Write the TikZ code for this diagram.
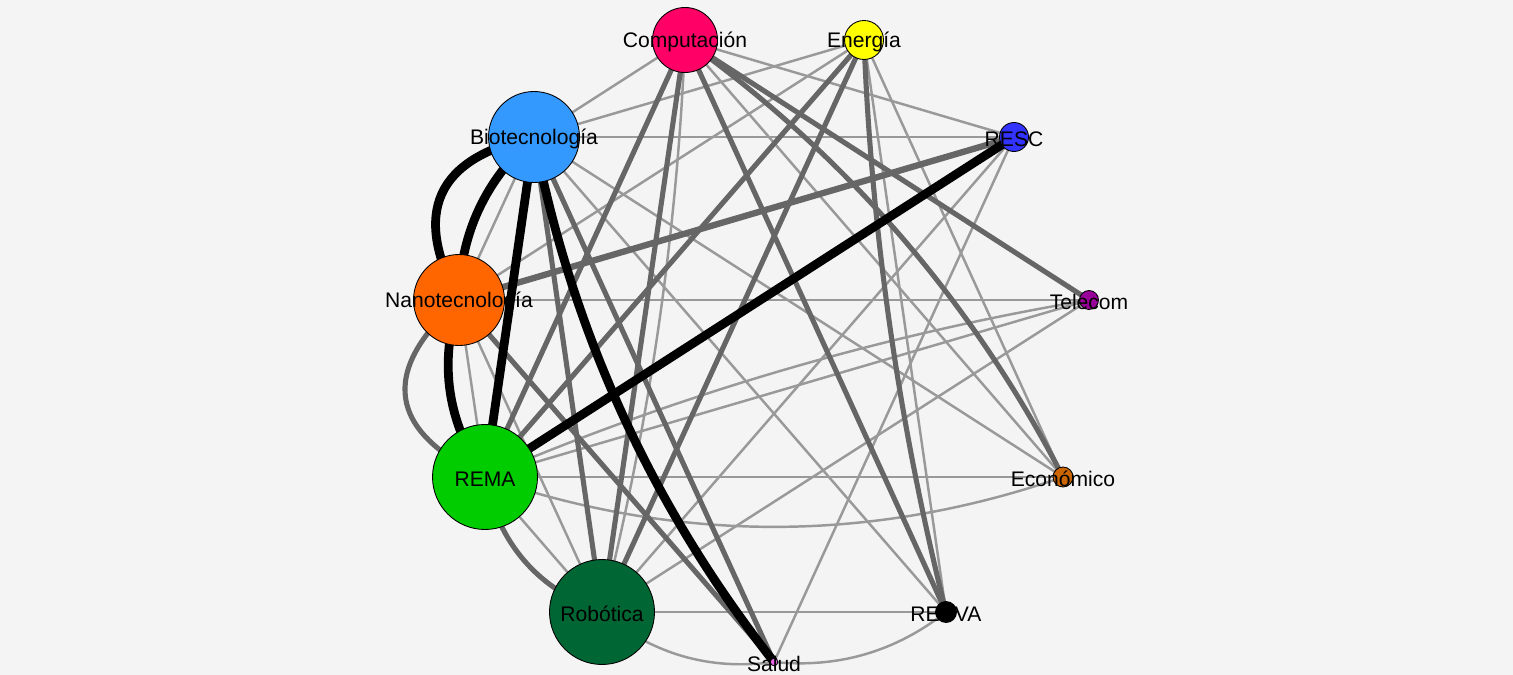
\documentclass[tikz,border=0pt]{standalone}
\usepackage{fontspec}
\setmainfont{Liberation Sans}
\usetikzlibrary{calc}
\definecolor{bg}{HTML}{F4F4F4}
\definecolor{lgrey}{HTML}{999999}
\definecolor{mgrey}{HTML}{666666}
\definecolor{cC}{HTML}{FF0066}
\definecolor{cE}{HTML}{FFFF00}
\definecolor{cRS}{HTML}{3333FF}
\definecolor{cT}{HTML}{990099}
\definecolor{cEc}{HTML}{CC6600}
\definecolor{cRD}{HTML}{000000}
\definecolor{cS}{HTML}{EE66EE}
\definecolor{cRo}{HTML}{006633}
\definecolor{cRM}{HTML}{00CC00}
\definecolor{cN}{HTML}{FF6600}
\definecolor{cB}{HTML}{3399FF}
\pgfdeclarelayer{bgl}
\pgfdeclarelayer{edges}
\pgfsetlayers{bgl,edges,main}
\tikzset{
  L/.style={draw=lgrey, line width=1.4pt},
  M/.style={draw=mgrey, line width=2.9pt},
  MW/.style={draw=mgrey, line width=3.6pt},
  K/.style={draw=black, line width=5pt},
  vtx/.style={circle, draw=black, line width=0.5pt, inner sep=0pt},
  lbl/.style={font=\fontsize{12}{14}\selectfont, text=black, inner sep=0pt, yshift=-0.04cm}
}
\newcommand\crv[4]{\draw[#1] (#2.center) .. controls ($(#2.center)!0.333!(#3.center)!#4!90:(#3.center)$) and ($(#2.center)!0.667!(#3.center)!#4!90:(#3.center)$) .. (#3.center);}
\newcommand\lin[3]{\draw[#1] (#2.center) -- (#3.center);}
\begin{document}
\begin{tikzpicture}[x=0.02cm,y=-0.02cm]
\begin{pgfonlayer}{bgl}
\fill[bg] (0,0) rectangle (1513,675);
\end{pgfonlayer}
\useasboundingbox (0,0) rectangle (1513,675);
% vertices
\node[vtx, fill=cC,  minimum size=1.30cm] (C)  at (685,40)  {};
\node[vtx, fill=cE,  minimum size=0.78cm] (E)  at (864,40)  {};
\node[vtx, fill=cRS, minimum size=0.58cm] (RS) at (1014,137) {};
\node[vtx, fill=cT,  minimum size=0.38cm] (T)  at (1089,300) {};
\node[vtx, fill=cEc, minimum size=0.40cm] (Ec) at (1063,477) {};
\node[vtx, fill=cRD, minimum size=0.42cm] (RD) at (946,612) {};
\node[vtx, fill=cS,  minimum size=0.15cm] (S)  at (774,662) {};
\node[vtx, fill=cRo, minimum size=2.10cm] (Ro) at (602,612) {};
\node[vtx, fill=cRM, minimum size=2.10cm] (RM) at (485,477) {};
\node[vtx, fill=cN,  minimum size=1.82cm] (N)  at (459,300) {};
\node[vtx, fill=cB,  minimum size=1.82cm] (B)  at (534,137) {};
% labels
\node[lbl] (lC)  at (C)  {Computación};
\node[lbl] (lE)  at (E)  {Energía};
\node[lbl] (lRS) at (RS) {RESC};
\node[lbl] (lT)  at (T)  {Telecom};
\node[lbl] (lEc) at (Ec) {Económico};
\node[lbl] (lRD) at (RD) {REDVA};
\node[lbl] (lS)  at (S)  {Salud};
\node[lbl] (lRo) at (Ro) {Robótica};
\node[lbl] (lRM) at (RM) {REMA};
\node[lbl] (lN)  at (N)  {Nanotecnología};
\node[lbl] (lB)  at (B)  {Biotecnología};
% edges
\begin{pgfonlayer}{edges}
% light
\lin{L}{B}{C}
\lin{L}{B}{E}
\lin{L}{B}{RS}
\lin{L}{B}{N}
\lin{L}{B}{RD}
\lin{L}{B}{Ec}
\lin{L}{C}{RS}
\lin{L}{C}{Ec}
\crv{L}{C}{Ro}{0.4cm}
\lin{L}{E}{N}
\lin{L}{E}{RD}
\lin{L}{E}{Ec}
\lin{L}{N}{T}
\lin{L}{N}{RM}
\lin{L}{N}{Ro}
\lin{L}{RM}{T}
\crv{L}{RM}{T}{0.5cm}
\lin{L}{RM}{Ec}
\crv{L}{Ec}{RM}{1.33cm}
\lin{L}{RM}{Ro}
\lin{L}{Ro}{RD}
\lin{L}{Ro}{RS}
\lin{L}{Ro}{T}
\crv{L}{S}{Ro}{0.53cm}
\crv{L}{RD}{S}{0.48cm}
\lin{L}{RS}{S}
% medium
\lin{M}{B}{S}
\lin{M}{B}{Ro}
\lin{M}{C}{RM}
\lin{M}{C}{Ro}
\lin{M}{C}{RD}
\lin{M}{C}{T}
\crv{M}{C}{Ec}{0.93cm}
\lin{M}{E}{RM}
\lin{M}{E}{Ro}
\crv{M}{RD}{E}{0.4cm}
\lin{MW}{N}{RS}
\lin{M}{N}{S}
\crv{M}{RM}{N}{1.79cm}
\crv{M}{Ro}{RM}{0.67cm}
% black
\crv{K}{N}{B}{1.6cm}
\crv{K}{N}{B}{0.53cm}
\lin{K}{B}{RM}
\crv{K}{S}{B}{0.93cm}
\crv{K}{RM}{N}{0.59cm}
\lin{K}{RM}{RS}
\end{pgfonlayer}
\end{tikzpicture}
\end{document}
